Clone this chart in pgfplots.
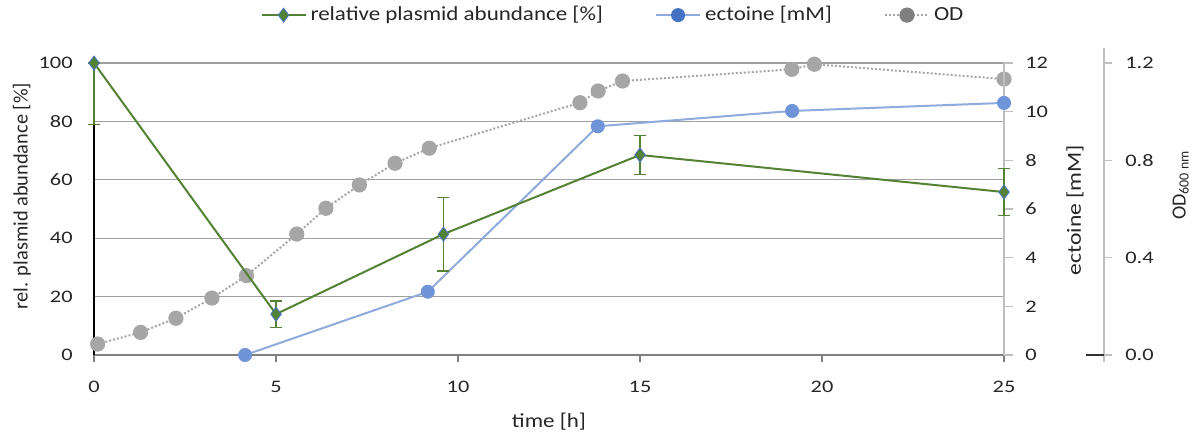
\documentclass[border=0pt]{standalone}
\usepackage{pgfplots}
\pgfplotsset{compat=1.18}
\usepackage{fontspec}
\setmainfont{Carlito}
\newfontfamily\tickfam{Carlito}[FakeStretch=1.27]
\newfontfamily\legfam{Carlito}[FakeStretch=1.15]
\newfontfamily\ectfam{Carlito}[FakeStretch=1.18]
\definecolor{pgreen}{RGB}{84,130,53}
\definecolor{pblue}{RGB}{68,114,196}
\definecolor{eline}{RGB}{143,170,220}
\definecolor{emark}{RGB}{112,148,216}
\definecolor{odgray}{RGB}{166,166,166}
\definecolor{oddark}{RGB}{127,127,127}
\definecolor{gridc}{RGB}{160,160,160}
\definecolor{axc}{RGB}{191,191,191}
\definecolor{txt}{RGB}{38,38,38}
\newcommand{\ff}{\fontsize{10}{12}\selectfont}
\newcommand{\tf}{\tickfam\fontsize{8.8}{10.5}\selectfont}
\newcommand{\lf}{\legfam\fontsize{10}{12}\selectfont}
\pgfplotsset{
  base/.style={scale only axis, at={(0pt,0pt)}, anchor=south west, clip=false,
    font=\ff, tick label style={font=\tf, text=txt}, label style={font=\ff, text=txt},
    /pgf/number format/assume math mode=true},
}
\begin{document}
\begin{tikzpicture}
% frame, grid, x axis, left axis, legend
\begin{axis}[base, width=455pt, height=146pt,
  xmin=0, xmax=25, ymin=0, ymax=100,
  axis x line*=bottom, axis y line*=left,
  axis line style={-},
  x axis line style={draw=black!50, line width=0.9pt},
  y axis line style={draw=black, line width=0.6pt},
  xtick={0,5,...,25}, ytick={0,20,...,100},
  tick align=outside, major tick length=3.5pt,
  xtick style={draw=black!50, line width=0.8pt},
  ytick style={draw=none},
  ymajorgrids, grid style={draw=gridc, line width=0.6pt},
  xticklabel style={anchor=center, yshift=-12.5pt},
  yticklabel style={anchor=east, inner sep=0pt, xshift=-7pt},
  xlabel={time [h]}, xlabel style={font=\lf, at={(axis description cs:0.5,-0.229)}, anchor=center},
  ylabel={rel. plasmid abundance [\%]}, ylabel style={font=\fontsize{10.2}{12}\selectfont, at={(axis description cs:-0.0791,0.5445)}, anchor=center},
  legend columns=3,
  legend style={at={(axis description cs:0.5714,1.164)}, anchor=center, draw=none, fill=none, font=\lf, text=txt,
    /tikz/every even column/.append style={column sep=24pt}},
  legend image code/.code={\draw[mark repeat=2, mark phase=2, #1] plot coordinates {(0pt,0pt) (11pt,0pt) (22pt,0pt)};}
]
\addlegendimage{pgreen, line width=1pt, mark=diamond*, mark size=3.5pt, mark options={fill=pgreen, draw=pblue, line width=0.4pt, solid}}
\addlegendentry{relative plasmid abundance [\%]}
\addlegendimage{eline, line width=1pt, mark=*, mark size=3pt, mark options={fill=pblue, draw=pblue, solid}}
\addlegendentry{ectoine [mM]}
\addlegendimage{odgray, line width=1pt, dash pattern=on 1pt off 1pt, mark=*, mark size=3.3pt, mark options={fill=oddark, draw=oddark, solid}}
\addlegendentry{OD}
\end{axis}
% OD axis
\begin{axis}[base, width=505pt, height=157pt, at={(0pt,-3.5pt)},
  xmin=0, xmax=27.7473, ymin=-0.0288, ymax=1.2617,
  axis x line=none, axis y line*=right,
  axis line style={-, draw=axc, line width=0.8pt},
  ytick={0,0.4,0.8,1.2},
  yticklabel style={anchor=west, inner sep=0pt, xshift=6.5pt,
    /pgf/number format/fixed, /pgf/number format/fixed zerofill, /pgf/number format/precision=1},
  tick align=outside, major tick length=4pt,
  ytick style={draw=axc, line width=0.8pt},
  ylabel={OD\textsubscript{600 nm}}, ylabel style={at={(axis description cs:1.076,0.5637)}, anchor=center}]
\addplot[odgray, line width=1pt, dash pattern=on 1pt off 1pt, mark=*, mark size=3.3pt, mark options={solid, fill=odgray, draw=odgray}] coordinates {
(0.1,0.045) (1.28,0.093) (2.25,0.151) (3.24,0.234) (4.19,0.326) (5.57,0.497) (6.37,0.603)
(7.29,0.699) (8.27,0.788) (9.21,0.85) (13.35,1.037) (13.85,1.085) (14.52,1.126)
(19.17,1.174) (19.79,1.195) (25,1.134)};
\end{axis}
% ectoine axis
\begin{axis}[base, width=455pt, height=146pt,
  xmin=0, xmax=25, ymin=0, ymax=12,
  axis x line=none, axis y line*=right,
  axis line style={-, draw=axc, line width=0.8pt},
  ytick={0,2,...,12},
  tick align=outside, major tick length=4.5pt,
  ytick style={draw=axc, line width=0.8pt},
  yticklabel style={anchor=west, inner sep=0pt, xshift=6pt},
  ylabel={ectoine [mM]}, ylabel style={font=\ectfam\fontsize{10}{12}\selectfont, at={(axis description cs:1.078,0.4966)}, anchor=center}]
\addplot[eline, line width=1pt, mark=*, mark size=3pt, mark options={fill=emark, draw=emark}] coordinates {
(4.15,0) (9.17,2.6) (13.84,9.4) (19.18,10.03) (25,10.36)};
\end{axis}
% plasmid data
\begin{axis}[base, width=455pt, height=146pt,
  xmin=0, xmax=25, ymin=0, ymax=100, hide axis]
\addplot[pgreen, line width=1pt, mark=diamond*, mark size=3.5pt,
  mark options={fill=pgreen, draw=pblue, line width=0.4pt},
  error bars/.cd, y dir=both, y explicit,
  error bar style={pgreen, line width=0.6pt},
  error mark options={rotate=90, mark size=3pt, pgreen, line width=0.6pt}] coordinates {
(0,100) += (0,0) -= (0,21)
(5,14) +- (0,4.5)
(9.6,41.4) +- (0,12.6)
(15,68.5) +- (0,6.6)
(25,55.8) +- (0,8)};
\end{axis}
\draw[black!80, line width=0.8pt] (496pt,0pt) -- (505pt,0pt);
\pgfresetboundingbox
\path[use as bounding box] (-47pt,-40pt) rectangle (553pt,177.5pt);
\end{tikzpicture}
\end{document}
